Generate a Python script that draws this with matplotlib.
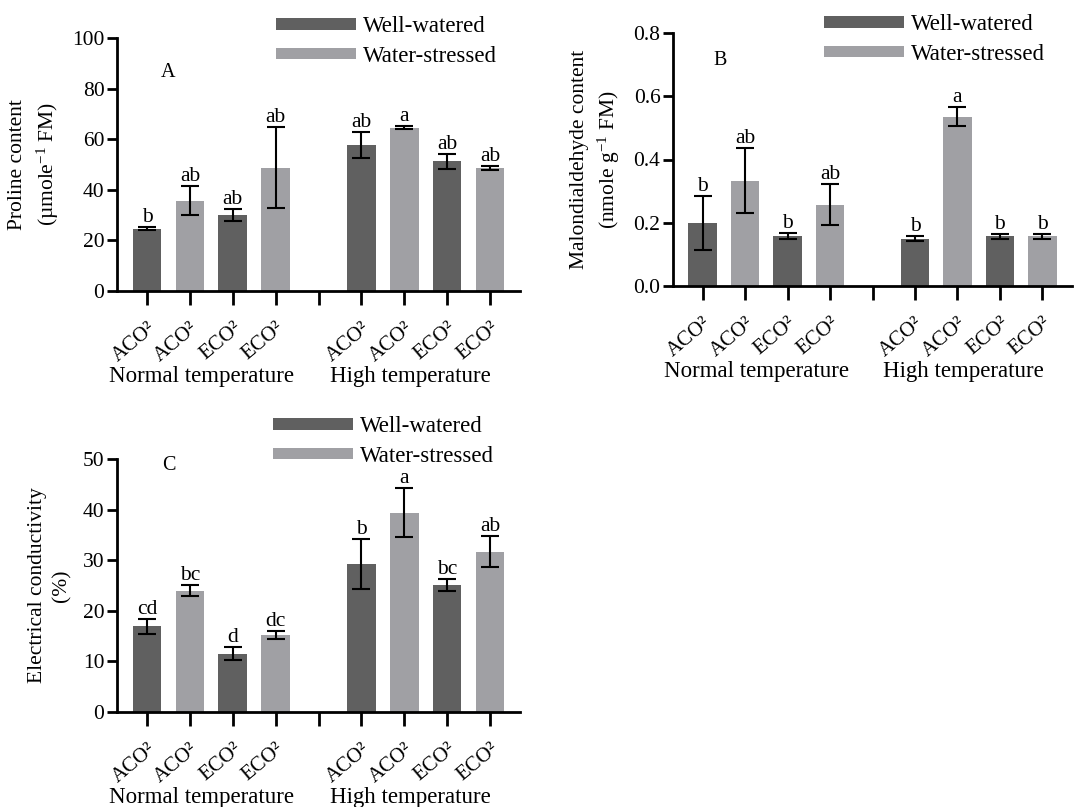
import matplotlib
matplotlib.use("Agg")
import matplotlib.pyplot as plt
from matplotlib.patches import Patch
from matplotlib.transforms import ScaledTranslation

plt.rcParams["font.family"] = ["Liberation Serif", "DejaVu Serif"]
plt.rcParams["mathtext.fontset"] = "custom"
plt.rcParams["mathtext.rm"] = "Liberation Serif"
plt.rcParams["mathtext.it"] = "Liberation Serif"

DARK = "#606060"
LIGHT = "#a0a0a4"

tick_labels = ["ACO²", "ACO²", "ECO²", "ECO²", "", "ACO²", "ACO²", "ECO²", "ECO²"]
groups = ["Normal temperature", "High temperature"]
series = ["Well-watered", "Water-stressed"]

# order: normal (WW ACO2, WS ACO2, WW ECO2, WS ECO2), high (same)
proline = [24.6, 35.7, 30.2, 48.8, 57.8, 64.6, 51.2, 48.7]
proline_err = [0.6, 5.7, 2.4, 16.0, 5.1, 0.5, 2.9, 0.8]
proline_sig = ["b", "ab", "ab", "ab", "ab", "a", "ab", "ab"]

mda = [0.200, 0.333, 0.158, 0.257, 0.149, 0.535, 0.158, 0.158]
mda_err = [0.085, 0.102, 0.010, 0.064, 0.008, 0.030, 0.008, 0.008]
mda_sig = ["b", "ab", "b", "ab", "b", "a", "b", "b"]

ec = [16.9, 24.0, 11.5, 15.3, 29.3, 39.4, 25.1, 31.7]
ec_err = [1.5, 1.1, 1.3, 0.8, 4.9, 4.8, 1.2, 3.0]
ec_sig = ["cd", "bc", "d", "dc", "b", "a", "bc", "ab"]

positions = [0, 1, 2, 3, 5, 6, 7, 8]
colors = [DARK, LIGHT, DARK, LIGHT, DARK, LIGHT, DARK, LIGHT]

W, H = 1084, 807
fig = plt.figure(figsize=(W / 100, H / 100), dpi=100)
shift = ScaledTranslation(9 / 100, 0, fig.dpi_scale_trans)


def px_axes(left, top, right, bottom):
    return fig.add_axes([left / W, 1 - bottom / H, (right - left) / W, (bottom - top) / H])


def panel(ax, vals, errs, sigs, ymax, ystep, ylabel, letter, letter_xy, fmt, leg_xy):
    ax.bar(positions, vals, width=0.67, color=colors, zorder=2)
    ax.errorbar(positions, vals, yerr=errs, fmt="none", ecolor="black",
                elinewidth=1.5, capsize=6.5, capthick=1.5, zorder=3)
    for x, v, e, s in zip(positions, vals, errs, sigs):
        ax.text(x, v + e, s, ha="center", va="bottom", fontsize=15.5)
    ax.set_xlim(-0.7, 8.7)
    ax.set_ylim(0, ymax)
    yt = [i * ystep for i in range(int(round(ymax / ystep)) + 1)]
    ax.set_yticks(yt)
    ax.set_yticklabels([fmt.format(v) for v in yt], fontsize=15.5)
    ax.set_xticks(range(9))
    ax.set_xticklabels(tick_labels, rotation=40, ha="right", rotation_mode="anchor", fontsize=15)
    for lab in ax.get_xticklabels():
        lab.set_transform(lab.get_transform() + shift)
    ax.tick_params(axis="x", length=10, width=2, pad=10)
    ax.tick_params(axis="y", length=7, width=2, pad=2)
    for s in ["top", "right"]:
        ax.spines[s].set_visible(False)
    for s in ["left", "bottom"]:
        ax.spines[s].set_linewidth(2)
    ax.set_ylabel(ylabel, fontsize=15.5, labelpad=8, linespacing=1.4)
    ax.text(letter_xy[0], letter_xy[1], letter, fontsize=14.5, ha="center", va="center")
    ax.text(1.27, -0.36, groups[0], transform=ax.get_xaxis_transform(), ha="center", va="baseline", fontsize=16.5)
    ax.text(6.15, -0.36, groups[1], transform=ax.get_xaxis_transform(), ha="center", va="baseline", fontsize=16.5)
    handles = [Patch(facecolor=DARK), Patch(facecolor=LIGHT)]
    fig.legend(handles, series, loc="upper left", bbox_to_anchor=(leg_xy[0] / W, 1 - leg_xy[1] / H),
               frameon=False, fontsize=16.5, handlelength=3.5, handleheight=0.4,
               handletextpad=0.3, labelspacing=0.38, borderpad=0, borderaxespad=0)


axA = px_axes(117, 38, 520, 291)
panel(axA, proline, proline_err, proline_sig, 100, 20,
      "Proline content\n(µmole$^{-1}$ FM)", "A", (0.5, 86.5), "{:.0f}", (276, 16))

axB = px_axes(673, 33, 1072, 286)
panel(axB, mda, mda_err, mda_sig, 0.8, 0.2,
      "Malondialdehyde content\n(nmole g$^{-1}$ FM)", "B", (0.42, 0.714), "{:.1f}", (824, 14))

axC = px_axes(117, 459, 520, 712)
panel(axC, ec, ec_err, ec_sig, 50, 10,
      "Electrical conductivity\n(%)", "C", (0.5, 48.8), "{:.0f}", (273, 416))

fig.savefig("out.png", dpi=100)
